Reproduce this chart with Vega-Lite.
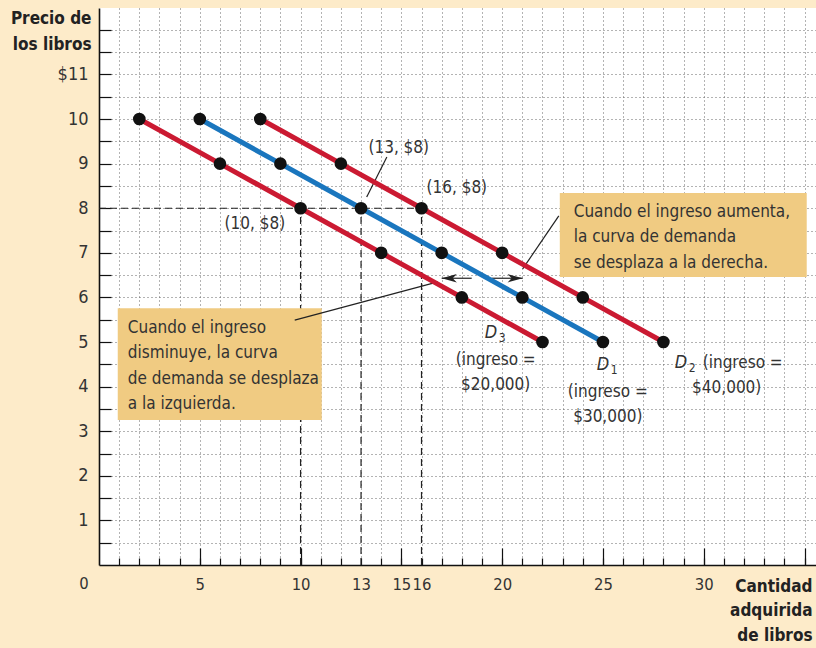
{
  "$schema": "https://vega.github.io/schema/vega-lite/v6.json",
  "width": 717,
  "height": 557,
  "autosize": {"type": "none"},
  "padding": {"left": 99, "top": 8, "right": 0, "bottom": 83},
  "background": "#FDEBC9",
  "config": {
    "view": {"stroke": null, "fill": "white"},
    "font": "DejaVu Sans Condensed",
    "axis": {"labelFont": "DejaVu Sans Condensed", "titleFont": "DejaVu Sans Condensed", "labelFlush": false, "labelOverlap": false}
  },
  "datasets": {
    "curves": [
      {"curve": "D3", "x": 2, "y": 10}, {"curve": "D3", "x": 6, "y": 9}, {"curve": "D3", "x": 10, "y": 8},
      {"curve": "D3", "x": 14, "y": 7}, {"curve": "D3", "x": 18, "y": 6}, {"curve": "D3", "x": 22, "y": 5},
      {"curve": "D1", "x": 5, "y": 10}, {"curve": "D1", "x": 9, "y": 9}, {"curve": "D1", "x": 13, "y": 8},
      {"curve": "D1", "x": 17, "y": 7}, {"curve": "D1", "x": 21, "y": 6}, {"curve": "D1", "x": 25, "y": 5},
      {"curve": "D2", "x": 8, "y": 10}, {"curve": "D2", "x": 12, "y": 9}, {"curve": "D2", "x": 16, "y": 8},
      {"curve": "D2", "x": 20, "y": 7}, {"curve": "D2", "x": 24, "y": 6}, {"curve": "D2", "x": 28, "y": 5}
    ],
    "dashed": [
      {"x": 0, "y": 8, "x2": 16, "y2": 8},
      {"x": 10, "y": 0, "x2": 10, "y2": 8},
      {"x": 13, "y": 0, "x2": 13, "y2": 8},
      {"x": 16, "y": 0, "x2": 16, "y2": 8}
    ],
    "leaders": [
      {"x": 14.28, "y": 9.15, "x2": 13.28, "y2": 8.25},
      {"x": 22.81, "y": 7.83, "x2": 21.02, "y2": 6.64},
      {"x": 9.71, "y": 5.49, "x2": 16.81, "y2": 6.35},
      {"x": 17.0, "y": 6.43, "x2": 18.49, "y2": 6.43},
      {"x": 19.48, "y": 6.43, "x2": 21.02, "y2": 6.43}
    ],
    "heads": [
      {"x": 17.0, "y": 6.43, "dir": "left"},
      {"x": 21.02, "y": 6.43, "dir": "right"}
    ],
    "boxes": [
      {"x": 0.93, "x2": 11.05, "y": 5.76, "y2": 3.25},
      {"x": 22.86, "x2": 35.11, "y": 8.34, "y2": 6.46}
    ],
    "centerText": [
      {"x": 7.73, "y": 7.53, "text": "(10, $8)"},
      {"x": 14.87, "y": 9.24, "text": "(13, $8)"},
      {"x": 17.75, "y": 8.34, "text": "(16, $8)"},
      {"x": 19.68, "y": 4.48, "text": "(ingreso ="},
      {"x": 19.68, "y": 3.92, "text": "$20,000)"},
      {"x": 25.24, "y": 3.77, "text": "(ingreso ="},
      {"x": 25.24, "y": 3.21, "text": "$30,000)"},
      {"x": 31.14, "y": 3.86, "text": "$40,000)"}
    ],
    "leftText": [
      {"x": 1.43, "y": 5.2, "text": ["Cuando el ingreso", "disminuye, la curva", "de demanda se desplaza", "a la izquierda."]},
      {"x": 23.55, "y": 7.8, "text": ["Cuando el ingreso aumenta,", "la curva de demanda", "se desplaza a la derecha."]},
      {"x": 29.95, "y": 4.42, "text": "(ingreso ="}
    ],
    "dLabels": [
      {"x": 19.14, "y": 5.09, "text": "D"},
      {"x": 24.69, "y": 4.37, "text": "D"},
      {"x": 28.56, "y": 4.42, "text": "D"}
    ],
    "subs": [
      {"x": 19.83, "y": 5.0, "text": "3"},
      {"x": 25.39, "y": 4.28, "text": "1"},
      {"x": 29.26, "y": 4.33, "text": "2"}
    ],
    "origin": [{"x": 0, "y": 0, "text": "0"}]
  },
  "resolve": {"axis": {"x": "independent", "y": "independent"}},
  "layer": [
    {
      "data": {"name": "dashed"},
      "mark": {"type": "rule", "color": "#222", "strokeWidth": 1.2, "strokeDash": [7, 4]},
      "encoding": {
        "x": {"field": "x", "type": "quantitative", "scale": {"domain": [0, 35.57], "nice": false, "zero": false},
          "axis": {"orient": "bottom", "values": [1,2,3,4,5,6,7,8,9,10,11,12,13,14,15,16,17,18,19,20,21,22,23,24,25,26,27,28,29,30,31,32,33,34,35],
            "tickSize": -7, "tickColor": "#111", "tickWidth": 1.2, "labels": false, "title": null,
            "grid": true, "gridDash": [1, 3], "gridColor": "#666", "gridWidth": 1,
            "domain": true, "domainColor": "#111", "domainWidth": 1.6}},
        "x2": {"field": "x2"},
        "y": {"field": "y", "type": "quantitative", "scale": {"domain": [0, 12.49], "nice": false, "zero": false},
          "axis": {"orient": "left", "values": [0.5,1,1.5,2,2.5,3,3.5,4,4.5,5,5.5,6,6.5,7,7.5,8,8.5,9,9.5,10,10.5,11,11.5,12],
            "tickSize": -12, "tickColor": "#111", "tickWidth": 1.2, "labels": false, "title": null,
            "grid": true, "gridDash": [1, 3], "gridColor": "#666", "gridWidth": 1,
            "domain": true, "domainColor": "#111", "domainWidth": 1.6}},
        "y2": {"field": "y2"}
      }
    },
    {
      "data": {"name": "boxes"},
      "mark": {"type": "rect", "fill": "#F0CB82"},
      "encoding": {
        "x": {"field": "x", "type": "quantitative", "scale": {"domain": [0, 35.57], "nice": false, "zero": false},
          "axis": {"orient": "bottom", "values": [5, 10, 15, 20, 25, 30, 35], "tickSize": -17, "tickColor": "#111", "tickWidth": 1.2,
            "labels": false, "title": null, "grid": false, "domain": false}},
        "x2": {"field": "x2"},
        "y": {"field": "y", "type": "quantitative", "scale": {"domain": [0, 12.49], "nice": false, "zero": false},
          "axis": {"orient": "left", "values": [1,2,3,4,5,6,7,8,9,10,11], "ticks": false, "grid": false, "domain": false,
            "labelExpr": "datum.value == 11 ? '$11' : datum.label", "labelPadding": 11, "labelFontSize": 18, "labelColor": "#333",
            "title": ["Precio de", "los libros"], "titleAngle": 0, "titleAlign": "right", "titleBaseline": "alphabetic",
            "titleX": -8, "titleY": 15, "titleFontSize": 17, "titleFontWeight": "bold", "titleColor": "#222", "titleLineHeight": 26}},
        "y2": {"field": "y2"}
      }
    },
    {
      "data": {"name": "leaders"},
      "mark": {"type": "rule", "color": "#222", "strokeWidth": 1.2},
      "encoding": {
        "x": {"field": "x", "type": "quantitative", "scale": {"domain": [0, 35.57], "nice": false, "zero": false},
          "axis": {"orient": "bottom", "values": [5, 10, 13, 15, 16, 20, 25, 30], "ticks": false, "grid": false, "domain": false,
            "labelPadding": 11, "labelFontSize": 16.5, "labelColor": "#333",
            "title": ["Cantidad", "adquirida", "de libros"], "titleAngle": 0, "titleAlign": "right", "titleBaseline": "alphabetic",
            "titleX": 713, "titleY": 26, "titleFontSize": 17, "titleFontWeight": "bold", "titleColor": "#222", "titleLineHeight": 24.5}},
        "x2": {"field": "x2"},
        "y": {"field": "y", "type": "quantitative", "scale": {"domain": [0, 12.49], "nice": false, "zero": false}, "axis": null},
        "y2": {"field": "y2"}
      }
    },
    {
      "data": {"name": "curves"},
      "mark": {"type": "line", "strokeWidth": 5},
      "encoding": {
        "x": {"field": "x", "type": "quantitative", "axis": null},
        "y": {"field": "y", "type": "quantitative", "axis": null},
        "color": {"field": "curve", "type": "nominal", "scale": {"domain": ["D1", "D2", "D3"], "range": ["#1A76BE", "#CB1A32", "#CB1A32"]}, "legend": null}
      }
    },
    {
      "data": {"name": "curves"},
      "mark": {"type": "point", "filled": true, "shape": "circle", "size": 160, "color": "#111", "opacity": 1},
      "encoding": {
        "x": {"field": "x", "type": "quantitative", "axis": null},
        "y": {"field": "y", "type": "quantitative", "axis": null}
      }
    },
    {
      "data": {"name": "heads"},
      "mark": {"type": "point", "filled": true, "size": 190, "color": "#222", "opacity": 1},
      "encoding": {
        "x": {"field": "x", "type": "quantitative", "axis": null},
        "y": {"field": "y", "type": "quantitative", "axis": null},
        "shape": {"field": "dir", "type": "nominal", "scale": {"domain": ["left", "right"], "range": ["M0,0L2.2,-0.6L1.6,0L2.2,0.6Z", "M0,0L-2.2,-0.6L-1.6,0L-2.2,0.6Z"]}, "legend": null}
      }
    },
    {
      "data": {"name": "centerText"},
      "mark": {"type": "text", "align": "center", "baseline": "alphabetic", "fontSize": 17, "color": "#333"},
      "encoding": {
        "x": {"field": "x", "type": "quantitative", "axis": null},
        "y": {"field": "y", "type": "quantitative", "axis": null},
        "text": {"field": "text"}
      }
    },
    {
      "data": {"name": "leftText"},
      "mark": {"type": "text", "align": "left", "baseline": "alphabetic", "fontSize": 17, "color": "#333", "lineHeight": 25.3},
      "encoding": {
        "x": {"field": "x", "type": "quantitative", "axis": null},
        "y": {"field": "y", "type": "quantitative", "axis": null},
        "text": {"field": "text"}
      }
    },
    {
      "data": {"name": "dLabels"},
      "mark": {"type": "text", "align": "left", "baseline": "alphabetic", "fontSize": 18, "fontStyle": "italic", "color": "#333"},
      "encoding": {
        "x": {"field": "x", "type": "quantitative", "axis": null},
        "y": {"field": "y", "type": "quantitative", "axis": null},
        "text": {"field": "text"}
      }
    },
    {
      "data": {"name": "subs"},
      "mark": {"type": "text", "align": "left", "baseline": "alphabetic", "fontSize": 12, "color": "#333"},
      "encoding": {
        "x": {"field": "x", "type": "quantitative", "axis": null},
        "y": {"field": "y", "type": "quantitative", "axis": null},
        "text": {"field": "text"}
      }
    },
    {
      "data": {"name": "origin"},
      "mark": {"type": "text", "align": "center", "baseline": "top", "fontSize": 16.5, "color": "#333", "dx": -15, "dy": 11},
      "encoding": {
        "x": {"field": "x", "type": "quantitative", "axis": null},
        "y": {"field": "y", "type": "quantitative", "axis": null},
        "text": {"field": "text"}
      }
    }
  ]
}
